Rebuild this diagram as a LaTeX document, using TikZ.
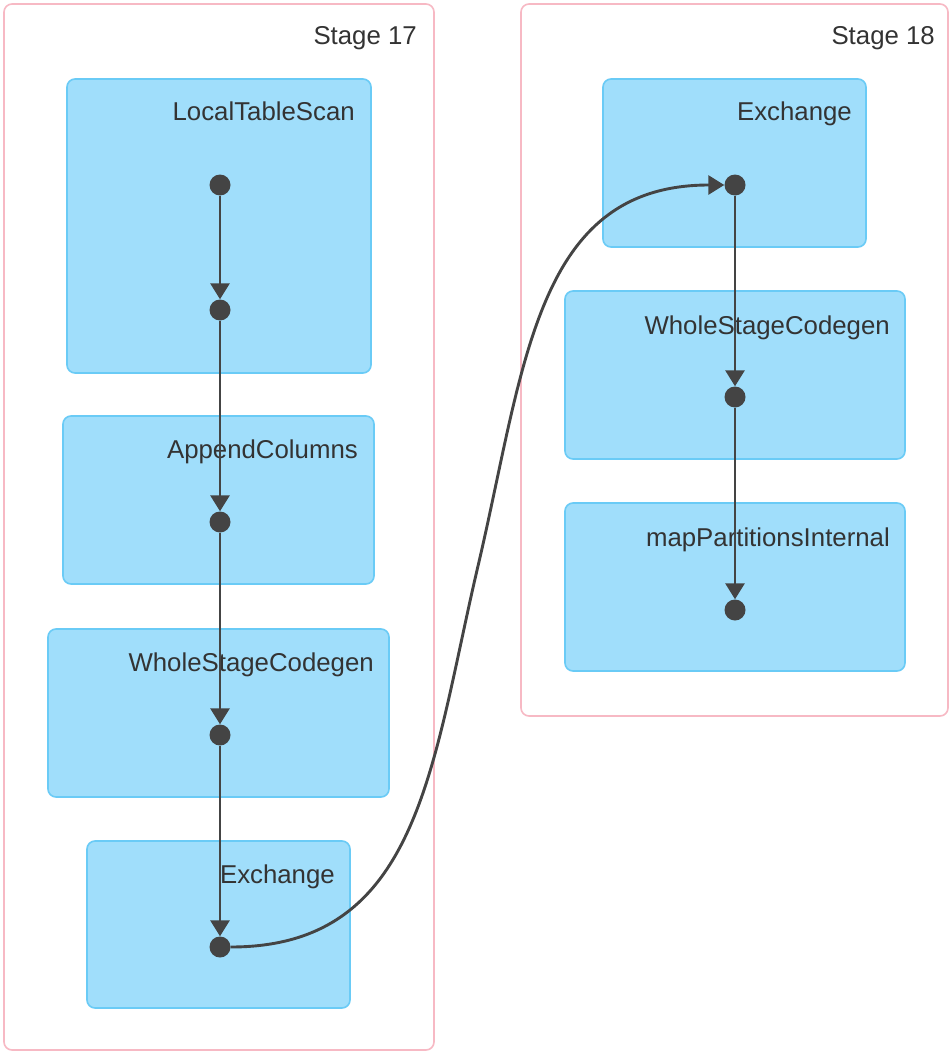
\documentclass[tikz,border=0pt]{standalone}
\usepackage{fontspec}
\setmainfont{Liberation Sans}
\usetikzlibrary{arrows.meta}
\definecolor{stageline}{HTML}{F7B9C4}
\definecolor{opfill}{HTML}{A0DEFB}
\definecolor{opline}{HTML}{6ACBF6}
\definecolor{edgecol}{HTML}{444444}
\definecolor{labelcol}{HTML}{333333}
\tikzset{
  stagebox/.style={draw=stageline, line width=1.6pt, fill=white, rounded corners=8pt},
  opbox/.style={draw=opline, line width=1.6pt, fill=opfill, rounded corners=8pt},
  lbl/.style={anchor=base east, inner sep=0pt, text=labelcol, font=\fontsize{25.8pt}{31pt}\selectfont},
  dot/.style={circle, fill=edgecol, draw=none, minimum size=21pt, inner sep=0pt},
  flow/.style={draw=edgecol, line width=2.9pt, -{Triangle[width=19pt,length=16pt]}},
}
\begin{document}
\begin{tikzpicture}[x=1pt, y=-1pt]
  \useasboundingbox (0,0) rectangle (952,1054);

  % stage clusters
  \draw[stagebox] (4,4) rectangle (434,1050);
  \node[lbl] (s17) at (417,45) {Stage 17};
  \draw[stagebox] (521,4) rectangle (948,716);
  \node[lbl] (s18) at (935,45) {Stage 18};

  % operator boxes, stage 17
  \draw[opbox] (67,79) rectangle (371,373);
  \node[lbl] (l1) at (355,121) {LocalTableScan};
  \draw[opbox] (63,416) rectangle (374,584);
  \node[lbl] (l2) at (358,458) {AppendColumns};
  \draw[opbox] (48,629) rectangle (389,797);
  \node[lbl] (l3) at (374,671) {WholeStageCodegen};
  \draw[opbox] (87,841) rectangle (350,1008);
  \node[lbl] (l4) at (335,883) {Exchange};

  % operator boxes, stage 18
  \draw[opbox] (603,79) rectangle (866,247);
  \node[lbl] (m1) at (852,121) {Exchange};
  \draw[opbox] (565,291) rectangle (905,459);
  \node[lbl] (m2) at (890,334) {WholeStageCodegen};
  \draw[opbox] (565,503) rectangle (905,671);
  \node[lbl] (m3) at (890,546) {mapPartitionsInternal};

  % plan nodes
  \node[dot] (d1) at (220,185) {};
  \node[dot] (d2) at (220,310) {};
  \node[dot] (d3) at (220,522) {};
  \node[dot] (d4) at (220,735) {};
  \node[dot] (d5) at (220,947) {};
  \node[dot] (r1) at (735,185) {};
  \node[dot] (r2) at (735,397) {};
  \node[dot] (r3) at (735,610) {};

  % edges
  \draw[flow] (d1) -- (d2);
  \draw[flow] (d2) -- (d3);
  \draw[flow] (d3) -- (d4);
  \draw[flow] (d4) -- (d5);
  \draw[flow] (r1) -- (r2);
  \draw[flow] (r2) -- (r3);
  \draw[flow] (d5.east) .. controls (420,947) and (431,766) .. (478,566)
                        .. controls (525,366) and (535,185) .. (r1.west);
\end{tikzpicture}
\end{document}
